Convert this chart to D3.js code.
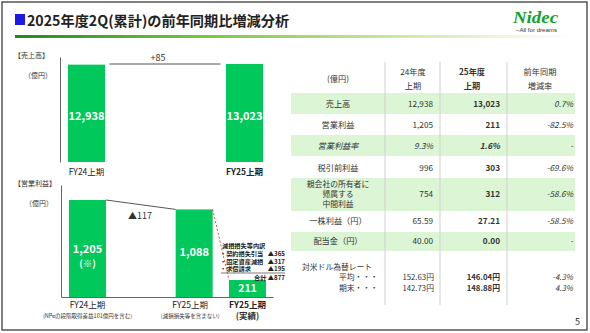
<!DOCTYPE html>
<html><head><meta charset="utf-8">
<script src="https://cdn.jsdelivr.net/npm/d3@7"></script>
<style>
html,body{margin:0;padding:0;background:#fff;}
svg{display:block;font-family:"Noto Sans CJK JP","Noto Sans",sans-serif;}
</style></head>
<body><svg id="c" width="590" height="333"></svg>
<script>
// ---------- data ----------
const titleText = "2025年度2Q(累計)の前年同期比増減分析";
const salesCats = ["FY24上期", "FY25上期"];
const salesVals = [12938, 13023];
const salesDiff = "+85";
const opKeys = ["FY24上期", "FY25上期(除)", "FY25上期(実績)"];
const opLabels = ["FY24上期", "FY25上期", "FY25上期"];
const opSubLabels = ["(NPeの段階取得差益101億円を含む)", "(減損損失等を含まない)", "(実績)"];
const opVals = [1205, 1088, 211];
const opDiff = "▲117";
const impairTitle = "減損損失等内訳";
const impairItems = ["・契約損失引当", "・固定資産減損", "・求償請求"];
const impairVals = [365, 317, 195];
const impairTotal = 877;

const tableHeader = [["(億円)"], ["24年度", "上期"], ["25年度", "上期"], ["前年同期", "増減率"]];
const rowLabels = [["売上高"], ["営業利益"], ["営業利益率"], ["税引前利益"], ["親会社の所有者に", "帰属する", "中間利益"], ["一株利益（円）"], ["配当金（円）"]];
const colFY24 = ["12,938", "1,205", "9.3%", "996", "754", "65.59", "40.00"];
const colFY25 = ["13,023", "211", "1.6%", "303", "312", "27.21", "0.00"];
const colChange = ["0.7%", "-82.5%", "-", "-69.6%", "-58.6%", "-58.5%", "-"];
const fxLabel = "対米ドル為替レート";
const fxSub = ["平均・・・", "期末・・・"];
const fxFY24 = ["152.63円", "142.73円"];
const fxFY25 = ["146.04円", "148.88円"];
const fxChange = ["-4.3%", "4.3%"];

// ---------- drawing ----------
const svg = d3.select("#c");
const GREEN = "#00c85a";
const BAND = "#dcf5d4";
const TXT = "#333";

// slide frame
svg.append("rect").attr("x", 2).attr("y", 2).attr("width", 585).attr("height", 328)
  .attr("fill", "none").attr("stroke", "#555").attr("stroke-width", 1.5);

// title
svg.append("rect").attr("x", 15).attr("y", 14).attr("width", 10).attr("height", 11).attr("fill", "#1a1ae0");
svg.append("text").attr("x", 27).attr("y", 26).attr("font-size", 14.2).attr("font-weight", "bold")
  .attr("fill", "#222").text(titleText);
const grad = svg.append("defs").append("linearGradient").attr("id", "g1");
grad.append("stop").attr("offset", "0%").attr("stop-color", "#1e8a1e");
grad.append("stop").attr("offset", "35%").attr("stop-color", "#7cc83c");
grad.append("stop").attr("offset", "70%").attr("stop-color", "#cfe9a8");
grad.append("stop").attr("offset", "100%").attr("stop-color", "#ffffff");
svg.append("rect").attr("x", 15).attr("y", 35).attr("width", 555).attr("height", 3).attr("fill", "url(#g1)");
// logo
svg.append("text").attr("x", 513).attr("y", 23).attr("font-size", 16)
  .attr("font-weight", "bold").attr("font-style", "italic").attr("fill", "#14a02a")
  .attr("font-family", "Liberation Serif, serif").attr("textLength", 45).attr("lengthAdjust", "spacingAndGlyphs").text("Nidec");
svg.append("text").attr("x", 516).attr("y", 32).attr("font-size", 5.8)
  .attr("fill", "#333").attr("font-family", "Liberation Sans, sans-serif").attr("textLength", 41)
  .attr("lengthAdjust", "spacingAndGlyphs").text("–All for dreams");

// ---------- sales chart ----------
const bw = 37;
const xS = d3.scalePoint().domain(salesCats).range([86.5, 244.5]);
const yS = d3.scaleLinear().domain([0, 13023]).range([162, 64]);
svg.append("text").attr("x", 14).attr("y", 58).attr("font-size", 7).attr("fill", TXT).text("【売上高】");
svg.append("text").attr("x", 24).attr("y", 78).attr("font-size", 7).attr("fill", TXT).text("（億円）");
svg.append("g").attr("transform", "translate(60,0)")
  .call(d3.axisLeft(d3.scaleLinear().domain([0, 1]).range([162, 57])).tickValues([]).tickSizeOuter(0))
  .select(".domain").attr("stroke", "#666");
svg.selectAll(".sbar").data(salesVals).enter().append("rect")
  .attr("x", (d, i) => xS(salesCats[i]) - bw / 2).attr("y", d => yS(d))
  .attr("width", bw).attr("height", d => yS(0) - yS(d)).attr("fill", GREEN);
svg.selectAll(".slab").data(salesVals).enter().append("text")
  .attr("x", (d, i) => xS(salesCats[i])).attr("y", 120).attr("text-anchor", "middle")
  .attr("font-size", 11).attr("font-weight", "bold").attr("fill", "#fff").text(d => d3.format(",")(d));
svg.selectAll(".sx").data(salesCats).enter().append("text")
  .attr("x", d => xS(d)).attr("y", 175).attr("text-anchor", "middle").attr("font-size", 8.5)
  .attr("font-weight", (d, i) => i === 1 ? "bold" : "normal").attr("fill", "#222").text(d => d);
svg.append("line").attr("x1", xS(salesCats[0]) + 23).attr("x2", xS(salesCats[1]) - 24)
  .attr("y1", yS(salesVals[1])).attr("y2", yS(salesVals[1])).attr("stroke", "#555").attr("stroke-width", 1);
svg.append("text").attr("x", 158).attr("y", 61).attr("text-anchor", "middle").attr("font-size", 9)
  .attr("fill", "#333").text(salesDiff);

// ---------- operating profit chart ----------
const xO = d3.scaleLinear().domain([0, 3]).range([87.5, 247.5]);
const slots = [0, 2, 3];
const yO = d3.scaleLinear().domain([0, 1205]).range([297, 200]);
svg.append("text").attr("x", 14).attr("y", 186).attr("font-size", 7).attr("fill", TXT).text("【営業利益】");
svg.append("text").attr("x", 25).attr("y", 206).attr("font-size", 7).attr("fill", TXT).text("（億円）");
svg.append("g").attr("transform", "translate(61,0)")
  .call(d3.axisLeft(d3.scaleLinear().domain([0, 1]).range([297, 185])).tickValues([]).tickSizeOuter(0))
  .select(".domain").attr("stroke", "#666");
svg.append("g").attr("transform", "translate(0,297)")
  .call(d3.axisBottom(d3.scaleLinear().domain([0, 1]).range([61, 273])).tickValues([]).tickSizeOuter(0))
  .select(".domain").attr("stroke", "#666");
svg.selectAll(".obar").data(opVals).enter().append("rect")
  .attr("x", (d, i) => xO(slots[i]) - bw / 2).attr("y", d => yO(d))
  .attr("width", bw).attr("height", d => yO(0) - yO(d)).attr("fill", GREEN);
// connector + diff
svg.append("line").attr("x1", xO(slots[0]) + bw / 2).attr("y1", yO(opVals[0]))
  .attr("x2", xO(slots[1]) - bw / 2).attr("y2", yO(opVals[1])).attr("stroke", "#555");
svg.append("text").attr("x", 140).attr("y", 219).attr("text-anchor", "middle").attr("font-size", 9)
  .attr("fill", "#333").text(opDiff);
// red dashed
svg.append("line").attr("x1", xO(slots[1]) + bw / 2).attr("y1", yO(opVals[1]))
  .attr("x2", xO(slots[2]) - bw / 2).attr("y2", yO(opVals[2])).attr("stroke", "#e03030")
  .attr("stroke-dasharray", "2,2").attr("stroke-width", 0.9);
// bar labels
svg.append("text").attr("x", xO(slots[0])).attr("y", 253).attr("text-anchor", "middle").attr("font-size", 11)
  .attr("font-weight", "bold").attr("fill", "#fff").text(d3.format(",")(opVals[0]));
svg.append("text").attr("x", xO(slots[0])).attr("y", 267).attr("text-anchor", "middle").attr("font-size", 9.5)
  .attr("font-weight", "bold").attr("fill", "#fff").text("(※)");
svg.append("text").attr("x", xO(slots[1])).attr("y", 256).attr("text-anchor", "middle").attr("font-size", 11)
  .attr("font-weight", "bold").attr("fill", "#fff").text(d3.format(",")(opVals[1]));
svg.append("text").attr("x", xO(slots[2])).attr("y", 292).attr("text-anchor", "middle").attr("font-size", 10.5)
  .attr("font-weight", "bold").attr("fill", "#fff").text(opVals[2]);
// x labels
svg.selectAll(".ox").data(opLabels).enter().append("text")
  .attr("x", (d, i) => xO(slots[i]) + (i === 1 ? -4 : 0)).attr("y", 308).attr("text-anchor", "middle")
  .attr("font-size", 8.5).attr("font-weight", (d, i) => i === 2 ? "bold" : "normal").attr("fill", "#222").text(d => d);
svg.selectAll(".oxs").data(opSubLabels).enter().append("text")
  .attr("x", (d, i) => xO(slots[i]) + (i === 1 ? -4 : 0)).attr("y", (d, i) => i === 2 ? 318.5 : 317.5).attr("text-anchor", "middle")
  .attr("font-size", (d, i) => i === 2 ? 8.5 : 5.5)
  .attr("font-weight", (d, i) => i === 2 ? "bold" : "normal").attr("fill", "#333").text(d => d);
// impairment breakdown
const af = 6.2;
svg.append("text").attr("x", 222).attr("y", 248).attr("font-size", af).attr("font-weight", "bold")
  .attr("fill", "#222").text(impairTitle);
impairItems.forEach((t, i) => {
  svg.append("text").attr("x", 220).attr("y", 256 + i * 7.7).attr("font-size", af).attr("font-weight", "bold")
    .attr("fill", "#222").text(t);
  svg.append("text").attr("x", 285).attr("y", 256 + i * 7.7).attr("text-anchor", "end").attr("font-size", af)
    .attr("font-weight", "bold").attr("fill", "#222").text("▲" + impairVals[i]);
});
svg.append("line").attr("x1", 221).attr("x2", 285).attr("y1", 273).attr("y2", 273).attr("stroke", "#444").attr("stroke-width", 0.7);
svg.append("text").attr("x", 285).attr("y", 279.5).attr("text-anchor", "end").attr("font-size", af)
  .attr("font-weight", "bold").attr("fill", "#222").text("合計 ▲" + impairTotal);

// ---------- table ----------
const tL = 291, tR = 575;
const rowY = [104, 125, 146, 168, 194, 221, 241];
const bandRows = [[93, 114], [135, 156], [178, 211], [232, 251]];
bandRows.forEach(b => svg.append("rect").attr("x", tL).attr("y", b[0]).attr("width", tR - tL)
  .attr("height", b[1] - b[0]).attr("fill", BAND));
[385, 440, 507].forEach(x => svg.append("line").attr("x1", x).attr("x2", x).attr("y1", 62).attr("y2", 305)
  .attr("stroke", "#d0d0d0").attr("stroke-width", 1));
const fs = 8.2;
const fsML = 7.8;   // font size for tightly stacked multi-line cells
const hx = [338, 413, 472, 540];
function cell(lines, x, yFirst, dy, anchor, opts) {
  const t = svg.append("text").attr("font-size", (opts && opts.size) || fs).attr("fill", TXT).attr("text-anchor", anchor);
  if (opts && opts.bold) t.attr("font-weight", "bold");
  if (opts && opts.italic) t.attr("font-style", "italic");
  lines.forEach((s, j) => {
    t.append("tspan").attr("x", x).attr("y", yFirst + j * dy).attr("text-anchor", anchor).text(s);
  });
  return t;
}
tableHeader.forEach((h, i) => {
  cell(h, hx[i], h.length === 1 ? 82 : 75, 14, "middle", { bold: i === 2 });
});
rowLabels.forEach((lab, i) => {
  const dy = 10.4;
  cell(lab, 338, rowY[i] + 3 - (lab.length - 1) / 2 * dy, dy, "middle",
    { italic: i === 2, size: lab.length > 1 ? fsML : fs });
  cell([colFY24[i]], 433, rowY[i] + 3, 0, "end", { italic: i === 2 });
  cell([colFY25[i]], 500, rowY[i] + 3, 0, "end", { bold: true, italic: i === 2 });
  cell([colChange[i]], 573, rowY[i] + 3, 0, "end", { italic: true });
});
// exchange rate row
const fxTop = 270;
const fxDy = 10.4;
cell([fxLabel], 302, fxTop, 0, "start", { size: fsML });
cell(fxSub, 378, fxTop + fxDy, fxDy, "end", { size: fsML });
cell(fxFY24, 434, fxTop + fxDy, fxDy, "end", { size: fsML });
cell(fxFY25, 500, fxTop + fxDy, fxDy, "end", { bold: true, size: fsML });
cell(fxChange, 573, fxTop + fxDy, fxDy, "end", { italic: true, size: fsML });

svg.append("text").attr("x", 580).attr("y", 325).attr("text-anchor", "end").attr("font-size", 9).attr("fill", "#222").text("5");
</script></body></html>
